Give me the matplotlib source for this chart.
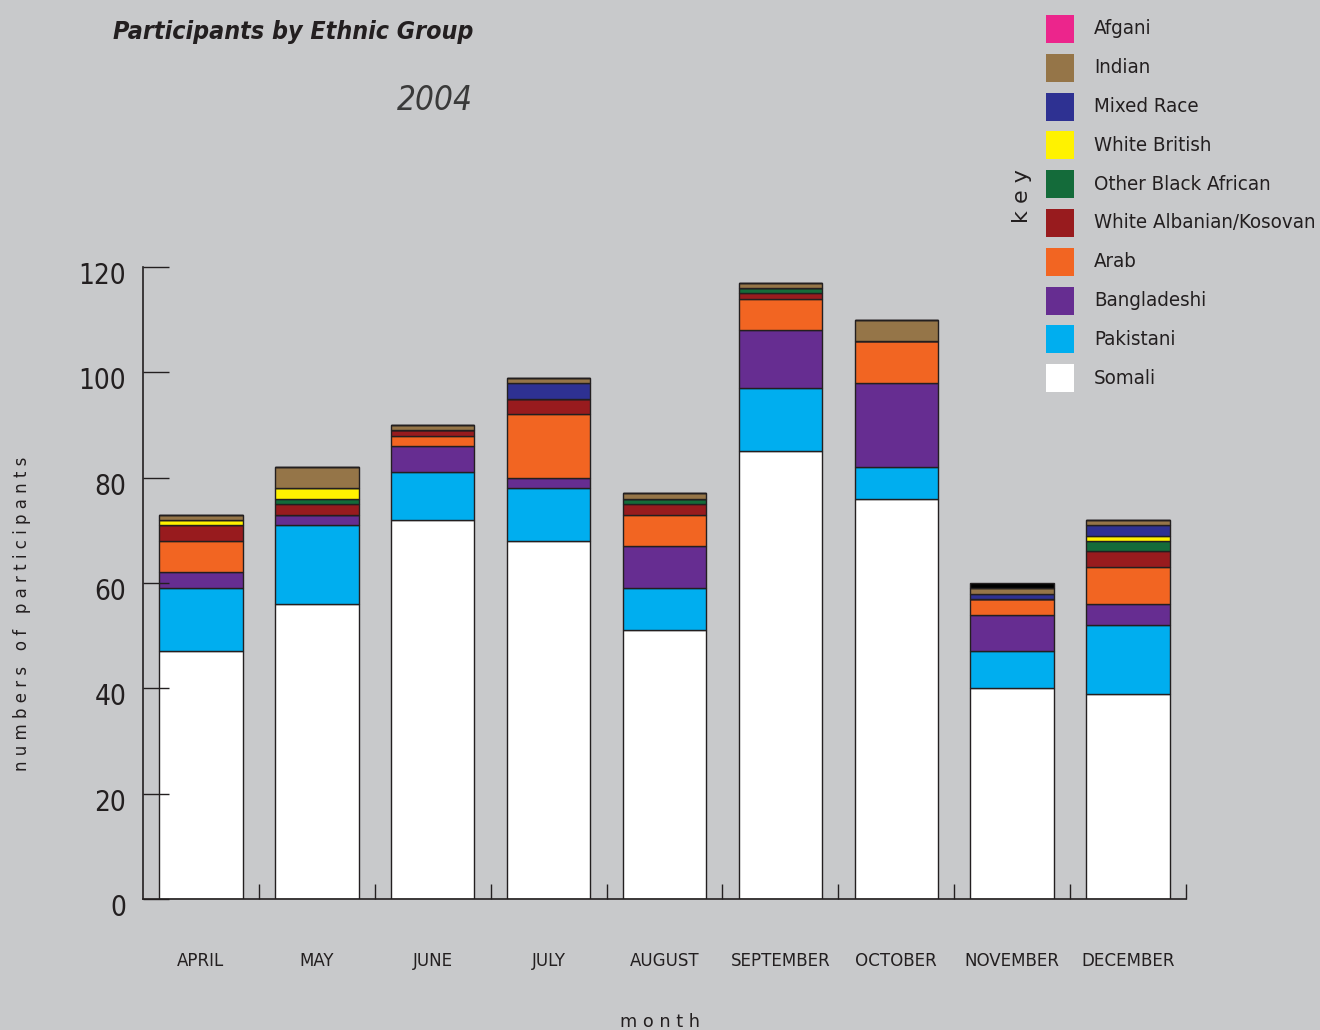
import numpy as np
import matplotlib
matplotlib.use('Agg')
import matplotlib.pyplot as plt
from matplotlib.patches import Rectangle
from matplotlib import font_manager
from matplotlib.transforms import ScaledTranslation

# condensed face if one is around, else DejaVu with condensed stretch
names = {f.name for f in font_manager.fontManager.ttflist}
if 'Liberation Sans Narrow' in names:
    plt.rcParams['font.family'] = ['Liberation Sans Narrow', 'DejaVu Sans']
else:
    plt.rcParams['font.family'] = ['DejaVu Sans']
    plt.rcParams['font.stretch'] = 'condensed'

months = ['APRIL', 'MAY', 'JUNE', 'JULY', 'AUGUST', 'SEPTEMBER', 'OCTOBER', 'NOVEMBER', 'DECEMBER']

# counts per ethnic group, stacked bottom to top
somali      = [47, 56, 72, 68, 51, 85, 76, 40, 39]
pakistani   = [12, 15,  9, 10,  8, 12,  6,  7, 13]
bangladeshi = [ 3,  2,  5,  2,  8, 11, 16,  7,  4]
arab        = [ 6,  0,  2, 12,  6,  6,  8,  3,  7]
albanian    = [ 3,  2,  1,  3,  2,  1,  0,  0,  3]
other_black = [ 0,  1,  0,  0,  1,  1,  0,  0,  2]
white_brit  = [ 1,  2,  0,  0,  0,  0,  0,  0,  1]
mixed       = [ 0,  0,  0,  3,  0,  0,  0,  1,  2]
indian      = [ 1,  4,  1,  1,  1,  1,  4,  1,  1]
afgani      = [ 0,  0,  0,  0,  0,  0,  0,  0,  0]
unlisted    = [ 0,  0,  0,  0,  0,  0,  0,  1,  0]   # black block in Nov, not in key

series = [
    ('Somali', somali, '#ffffff'),
    ('Pakistani', pakistani, '#00aeef'),
    ('Bangladeshi', bangladeshi, '#662d91'),
    ('Arab', arab, '#f26522'),
    ('White Albanian/Kosovan', albanian, '#981b1e'),
    ('Other Black African', other_black, '#146b3a'),
    ('White British', white_brit, '#fff200'),
    ('Mixed Race', mixed, '#2e3192'),
    ('Indian', indian, '#957548'),
    ('Afgani', afgani, '#ec258c'),
]

bg = '#c8c9cb'
ink = '#231f20'
fig = plt.figure(figsize=(13.2, 10.3), dpi=100, facecolor=bg)
ax = fig.add_axes([143/1320, 131/1030, 1043/1320, 632/1030], facecolor=bg)

x = np.arange(len(months))
bottom = np.zeros(len(months))
for name, vals, col in series:
    v = np.array(vals, dtype=float)
    ax.bar(x, v, 0.72, bottom=bottom, color=col, edgecolor=ink, linewidth=1.0)
    bottom += v
ax.bar(x, unlisted, 0.72, bottom=bottom, color='black', edgecolor=ink, linewidth=1.0)

ax.set_xlim(-0.5, 8.5)
ax.set_ylim(0, 120)
for s in ['top', 'right']:
    ax.spines[s].set_visible(False)
for s in ['left', 'bottom']:
    ax.spines[s].set_color(ink)
    ax.spines[s].set_linewidth(1.2)

ax.set_yticks(range(0, 121, 20))
ax.tick_params(axis='y', direction='in', length=19, width=1.0, color=ink,
               labelsize=20, pad=12, labelcolor=ink)
ax.set_xticks(x)
ax.set_xticklabels(months)
ax.tick_params(axis='x', length=0, labelsize=15, pad=38, labelcolor=ink)
ax.set_xticks(np.arange(0.5, 9.0, 1.0), minor=True)
ax.tick_params(axis='x', which='minor', direction='in', length=11, width=1.0, color=ink)
for t in ax.get_yticklabels():
    t.set_transform(t.get_transform() + ScaledTranslation(0, -0.06, fig.dpi_scale_trans))

# titles
title = fig.text(473/1320, 1 - 32/1030, 'Participants by Ethnic Group', ha='right', va='center',
                 fontsize=26, fontweight='bold', fontstyle='italic', color=ink)
year = fig.text(473/1320, 1 - 101/1030, '2004', ha='right', va='center',
                fontsize=30, fontstyle='italic', fontweight='light', color='#3a3a3a')

# axis labels, letter spaced
ylab = fig.text(22/1320, 1 - 614/1030, ' '.join('numbers of participants'),
                rotation=90, ha='center', va='center', fontsize=14, color=ink,
                fontstretch='normal')
xlab = fig.text(660/1320, 1 - 1022/1030, ' '.join('month'), ha='center', va='center',
                fontsize=16, color=ink, fontstretch='normal')
fig.text(1022/1320, 1 - 196/1030, ' '.join('key'), rotation=90, ha='center', va='center',
         fontsize=16, color=ink, fontstretch='normal')

# key
key_labels = []
for i, (name, vals, col) in enumerate(series[::-1]):
    yc = 29 + i * 38.8
    fig.add_artist(Rectangle((1046/1320, 1 - (yc + 14)/1030), 28/1320, 28/1030,
                             transform=fig.transFigure, facecolor=col, edgecolor='none'))
    key_labels.append(fig.text(1094/1320, 1 - yc/1030, name, ha='left', va='center',
                               fontsize=19, color=ink))

# shrink texts that would run wider than the reference
fig.canvas.draw()
r = fig.canvas.get_renderer()

def fit(texts, widest, target, vertical=False):
    bb = widest.get_window_extent(r)
    w = bb.height if vertical else bb.width
    if w > target:
        k = target / w
        for t in texts:
            t.set_fontsize(t.get_fontsize() * k)

fit([title], title, 360)
fit([year], year, 76)
fit(key_labels, key_labels[5], 222)
fit([ylab], ylab, 318, vertical=True)
fit([xlab], xlab, 80)
xl = ax.get_xticklabels()
fit(xl, xl[5], 100)
ax.tick_params(axis='x', labelsize=xl[0].get_fontsize())

fig.savefig('out.png', dpi=100, facecolor=bg)
